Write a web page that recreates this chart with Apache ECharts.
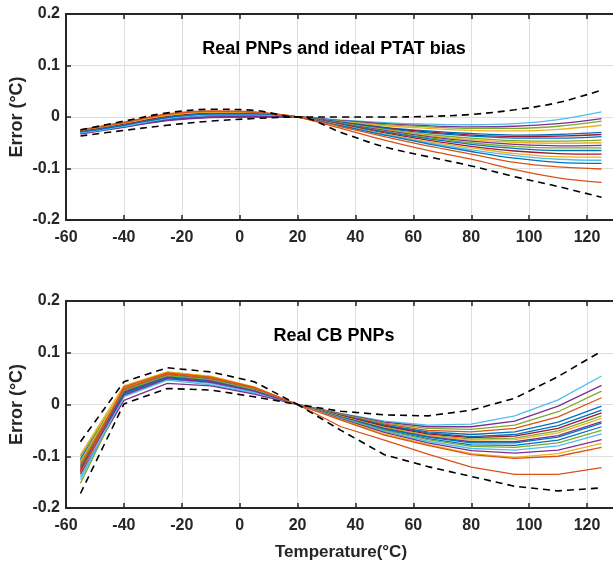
<!DOCTYPE html>
<html>
<head>
<meta charset="utf-8">
<script src="https://cdn.jsdelivr.net/npm/echarts@6/dist/echarts.min.js"></script>
<style>
  html, body { margin: 0; padding: 0; background: #fff; }
  #chart { width: 613px; height: 567px; }
</style>
</head>
<body>
<div id="chart"></div>
<script>
// temperatures (°C)
const temps = [-55, -40, -25, -10, 5, 20, 35, 50, 65, 80, 95, 110, 125];
const xTicks = [-60, -40, -20, 0, 20, 40, 60, 80, 100, 120];
const yTicks = [-0.2, -0.1, 0, 0.1, 0.2];

// top panel: real PNPs with ideal PTAT bias
const ptatLines = [
  [-0.030, -0.018, -0.005, 0.001, 0.002, 0, -0.006, -0.011, -0.014, -0.015, -0.013, -0.005, 0.010],
  [-0.033, -0.020, -0.007, -0.001, 0.000, 0, -0.007, -0.013, -0.017, -0.019, -0.018, -0.013, -0.003],
  [-0.029, -0.016, -0.002, 0.005, 0.005, 0, -0.008, -0.015, -0.019, -0.022, -0.022, -0.018, -0.008],
  [-0.027, -0.014, 0.001, 0.008, 0.007, 0, -0.009, -0.017, -0.022, -0.026, -0.027, -0.024, -0.016],
  [-0.030, -0.017, -0.003, 0.004, 0.004, 0, -0.010, -0.020, -0.027, -0.032, -0.035, -0.034, -0.030],
  [-0.028, -0.015, 0.000, 0.006, 0.006, 0, -0.011, -0.021, -0.029, -0.035, -0.038, -0.037, -0.034],
  [-0.031, -0.018, -0.004, 0.003, 0.003, 0, -0.011, -0.022, -0.031, -0.037, -0.041, -0.041, -0.038],
  [-0.029, -0.016, -0.001, 0.006, 0.005, 0, -0.012, -0.024, -0.034, -0.041, -0.046, -0.047, -0.045],
  [-0.027, -0.013, 0.002, 0.009, 0.008, 0, -0.013, -0.025, -0.036, -0.044, -0.049, -0.051, -0.050],
  [-0.032, -0.019, -0.006, 0.000, 0.001, 0, -0.013, -0.026, -0.038, -0.047, -0.053, -0.056, -0.055],
  [-0.028, -0.015, -0.001, 0.006, 0.006, 0, -0.014, -0.028, -0.040, -0.050, -0.057, -0.060, -0.060],
  [-0.030, -0.017, -0.002, 0.005, 0.005, 0, -0.014, -0.029, -0.042, -0.053, -0.061, -0.065, -0.065],
  [-0.028, -0.014, 0.001, 0.007, 0.007, 0, -0.015, -0.031, -0.045, -0.057, -0.066, -0.071, -0.072],
  [-0.026, -0.012, 0.003, 0.010, 0.008, 0, -0.016, -0.033, -0.048, -0.060, -0.071, -0.077, -0.078],
  [-0.031, -0.018, -0.003, 0.004, 0.004, 0, -0.017, -0.034, -0.050, -0.064, -0.075, -0.082, -0.084],
  [-0.029, -0.016, -0.001, 0.006, 0.006, 0, -0.017, -0.035, -0.052, -0.067, -0.080, -0.088, -0.090],
  [-0.026, -0.011, 0.005, 0.011, 0.009, 0, -0.019, -0.038, -0.056, -0.072, -0.088, -0.097, -0.101],
  [-0.025, -0.010, 0.006, 0.012, 0.010, 0, -0.022, -0.045, -0.065, -0.082, -0.102, -0.118, -0.127]
];
const ptatUpper = [-0.025, -0.008, 0.008, 0.015, 0.013, 0, 0.000, 0.000, 0.001, 0.005, 0.014, 0.028, 0.052];
const ptatLower = [-0.037, -0.026, -0.016, -0.008, -0.003, 0, -0.030, -0.058, -0.077, -0.095, -0.116, -0.135, -0.156];

// bottom panel: real CB PNPs
const cbLines = [
  [-0.145, 0.015, 0.047, 0.038, 0.022, 0, -0.017, -0.032, -0.040, -0.038, -0.022, 0.009, 0.055],
  [-0.135, 0.008, 0.041, 0.036, 0.020, 0, -0.018, -0.034, -0.043, -0.043, -0.032, -0.003, 0.037],
  [-0.152, 0.020, 0.052, 0.045, 0.027, 0, -0.019, -0.036, -0.046, -0.048, -0.040, -0.014, 0.026],
  [-0.125, 0.033, 0.062, 0.054, 0.033, 0, -0.020, -0.038, -0.050, -0.053, -0.046, -0.024, 0.013],
  [-0.108, 0.025, 0.055, 0.048, 0.029, 0, -0.021, -0.040, -0.053, -0.058, -0.053, -0.034, -0.003],
  [-0.118, 0.022, 0.053, 0.046, 0.028, 0, -0.022, -0.041, -0.055, -0.062, -0.058, -0.041, -0.011],
  [-0.128, 0.026, 0.056, 0.049, 0.030, 0, -0.022, -0.042, -0.057, -0.064, -0.061, -0.046, -0.016],
  [-0.100, 0.030, 0.058, 0.050, 0.031, 0, -0.023, -0.044, -0.059, -0.067, -0.065, -0.051, -0.022],
  [-0.097, 0.036, 0.063, 0.055, 0.034, 0, -0.023, -0.045, -0.060, -0.069, -0.068, -0.055, -0.027],
  [-0.112, 0.024, 0.054, 0.046, 0.028, 0, -0.024, -0.046, -0.062, -0.072, -0.072, -0.060, -0.033],
  [-0.105, 0.028, 0.057, 0.049, 0.030, 0, -0.025, -0.047, -0.063, -0.074, -0.074, -0.063, -0.036],
  [-0.122, 0.021, 0.052, 0.044, 0.027, 0, -0.025, -0.049, -0.066, -0.078, -0.079, -0.069, -0.043],
  [-0.115, 0.027, 0.056, 0.048, 0.029, 0, -0.026, -0.050, -0.068, -0.081, -0.083, -0.074, -0.050],
  [-0.140, 0.016, 0.049, 0.041, 0.024, 0, -0.027, -0.052, -0.071, -0.085, -0.088, -0.080, -0.057],
  [-0.130, 0.018, 0.050, 0.043, 0.026, 0, -0.028, -0.054, -0.074, -0.089, -0.094, -0.088, -0.068],
  [-0.110, 0.032, 0.060, 0.052, 0.032, 0, -0.029, -0.057, -0.077, -0.095, -0.102, -0.095, -0.075],
  [-0.120, 0.030, 0.059, 0.051, 0.032, 0, -0.030, -0.059, -0.079, -0.097, -0.104, -0.100, -0.083],
  [-0.132, 0.034, 0.061, 0.053, 0.033, 0, -0.043, -0.069, -0.096, -0.121, -0.135, -0.135, -0.122]
];
const cbUpper = [-0.072, 0.044, 0.071, 0.063, 0.044, 0, -0.013, -0.020, -0.022, -0.011, 0.012, 0.054, 0.103];
const cbLower = [-0.172, 0.001, 0.031, 0.028, 0.015, 0, -0.050, -0.097, -0.120, -0.139, -0.158, -0.167, -0.161];

// matlab-ish line colours
const BLUE = '#0072BD', ORANGE = '#D95319', YELLOW = '#EDB120', PURPLE = '#7E2F8E',
      GREEN = '#77AC30', CYAN = '#4DBEEE', RED = '#A2142F';
const ptatColors = [CYAN, PURPLE, GREEN, YELLOW, BLUE, RED, BLUE, GREEN, YELLOW, PURPLE,
  GREEN, BLUE, RED, YELLOW, CYAN, BLUE, ORANGE, ORANGE];
const cbColors = [CYAN, PURPLE, GREEN, ORANGE, BLUE, BLUE, RED, GREEN, YELLOW, PURPLE,
  BLUE, BLUE, GREEN, CYAN, PURPLE, YELLOW, ORANGE, ORANGE];

const FONT = 'Liberation Sans';
const INK = '#262626';

const chart = echarts.init(document.getElementById('chart'));

const pairs = (ys) => temps.map((t, i) => [t, ys[i]]);

const makeX = (gridIndex, showName) => ({
  type: 'value', gridIndex, min: -60, max: 130, interval: 20,
  axisLine: { onZero: false, lineStyle: { color: INK, width: 2 } },
  axisTick: { inside: true, length: 5, lineStyle: { color: INK, width: 1.5 } },
  splitLine: { show: true, lineStyle: { color: '#dedede', width: 1 } },
  axisLabel: {
    color: INK, fontFamily: FONT, fontWeight: 'bold', fontSize: 16, margin: 10,
    formatter: (v) => (xTicks.includes(v) ? String(v) : '')
  },
  name: showName ? 'Temperature(°C)' : '',
  nameLocation: 'middle', nameGap: 36, nameMoveOverlap: false,
  nameTextStyle: { color: INK, fontFamily: FONT, fontWeight: 'bold', fontSize: 17 }
});
const makeXTop = (gridIndex) => ({
  type: 'value', gridIndex, position: 'top', min: -60, max: 130, interval: 20,
  axisLine: { onZero: false, lineStyle: { color: INK, width: 2 } },
  axisTick: { inside: true, length: 5, lineStyle: { color: INK, width: 1.5 } },
  axisLabel: { show: false }, splitLine: { show: false }
});
const makeY = (gridIndex) => ({
  type: 'value', gridIndex, min: -0.2, max: 0.2, interval: 0.1,
  axisLine: { show: true, onZero: false, lineStyle: { color: INK, width: 2 } },
  axisTick: { show: true, inside: true, length: 5, lineStyle: { color: INK, width: 1.5 } },
  splitLine: { show: true, lineStyle: { color: '#dedede', width: 1 } },
  axisLabel: {
    color: INK, fontFamily: FONT, fontWeight: 'bold', fontSize: 16, margin: 6,
    formatter: (v) => {
      const t = yTicks.find((k) => Math.abs(k - v) < 1e-9);
      return t === undefined ? '' : String(t);
    }
  },
  name: 'Error (°C)', nameLocation: 'middle', nameGap: 40, nameRotate: 90,
  nameMoveOverlap: false,
  nameTextStyle: { color: INK, fontFamily: FONT, fontWeight: 'bold', fontSize: 18 }
});

const series = [];
const addPanel = (lines, colors, upper, lower, idx, smooth) => {
  lines.forEach((ys, i) => {
    series.push({
      type: 'line', xAxisIndex: idx * 2, yAxisIndex: idx, data: pairs(ys),
      showSymbol: false, smooth, lineStyle: { color: colors[i], width: 1.3 },
      silent: true, z: 2
    });
  });
  [upper, lower].forEach((ys) => {
    series.push({
      type: 'line', xAxisIndex: idx * 2, yAxisIndex: idx, data: pairs(ys),
      showSymbol: false, smooth,
      lineStyle: { color: '#000', width: 1.6, type: [7, 5] },
      silent: true, z: 3
    });
  });
};
addPanel(ptatLines, ptatColors, ptatUpper, ptatLower, 0, 0.35);
addPanel(cbLines, cbColors, cbUpper, cbLower, 1, false);

chart.setOption({
  animation: false,
  backgroundColor: '#fff',
  title: [
    { text: 'Real PNPs and ideal PTAT bias', left: 329, top: 35, textAlign: 'center',
      textStyle: { fontFamily: FONT, fontWeight: 'bold', fontSize: 18, color: '#000' } },
    { text: 'Real CB PNPs', left: 329, top: 322, textAlign: 'center',
      textStyle: { fontFamily: FONT, fontWeight: 'bold', fontSize: 18, color: '#000' } }
  ],
  grid: [
    { left: 66, right: -3, top: 14, height: 206, outerBoundsMode: 'none' },
    { left: 66, right: -3, top: 301, height: 207, outerBoundsMode: 'none' }
  ],
  xAxis: [makeX(0, false), makeXTop(0), makeX(1, true), makeXTop(1)],
  yAxis: [makeY(0), makeY(1)],
  series
});
</script>
</body>
</html>
